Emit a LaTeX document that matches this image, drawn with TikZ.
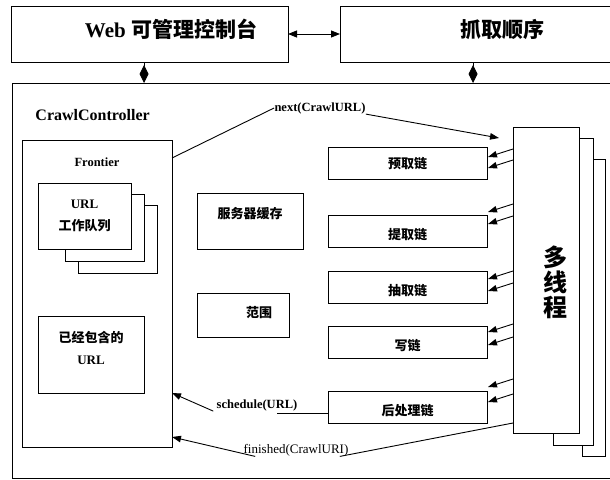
\documentclass[tikz,border=0pt]{standalone}
\usepackage{fontspec}
\setmainfont{Liberation Serif}
\newfontfamily\cjk{Noto Sans CJK SC}
\usetikzlibrary{arrows.meta, positioning, calc}

\begin{document}
\begin{tikzpicture}[
      x=1pt, y=-1pt,
      every node/.style={font=\bfseries},
      box/.style={draw, rectangle, fill=white, inner sep=0pt, outer sep=0pt},
      chain/.style={box, minimum width=159pt, minimum height=32pt, text height=18pt, text depth=1.5pt,
                    font=\cjk\bfseries\fontsize{13}{15}\selectfont},
      txt/.style={inner sep=0pt, font=\bfseries\fontsize{12.5}{14}\selectfont},
      tip/.style={-{Triangle[length=9pt,width=6.5pt]}},
      has/.style={-{Diamond[length=18pt,width=9pt]}},
      line width=0.9pt
    ]
    \useasboundingbox (0,0) rectangle (610,479);
    \clip (0,0) rectangle (610,479);

    % Nodes
    \node[box, minimum width=277pt, minimum height=56pt] (web) at (149.5,34) {};
    \node[txt, font=\bfseries\fontsize{21}{24}\selectfont] (webtxt) at (171,29) {Web {\cjk 可管理控制台}};
    \node[box, minimum width=280pt, minimum height=56pt] (order) at (480,34) {};
    \node[txt, font=\cjk\bfseries\fontsize{21}{24}\selectfont] (ordertxt) at (502,29) {抓取顺序};
    \node[box, minimum width=608pt, minimum height=395pt] (ctrl) at (316,280.5) {};
    \node[txt, font=\bfseries\fontsize{16}{18}\selectfont, anchor=west] (ctrltxt) at (35,115) {CrawlController};

    % Frontier
    \node[box, minimum width=150pt, minimum height=307pt] (frontier) at (97,293.5) {};
    \node[txt, below=17pt of frontier.north] (frontiertxt) {Frontier};
    \node[box, minimum width=79pt, minimum height=68pt] (queue3) at (117.5,239) {};
    \node[box, minimum width=79pt, minimum height=67pt] (queue2) at (104.5,227.5) {};
    \node[box, minimum width=93pt, minimum height=66pt, align=center,
          font=\bfseries\fontsize{13}{22}\selectfont] (queue) at (84.5,216) {URL\\{\cjk 工作队列}};
    \node[box, minimum width=106pt, minimum height=77pt] (seen) at (91,354.5) {};
    \node[txt, align=center, font=\bfseries\fontsize{13}{22}\selectfont] (seentxt)
      at ([yshift=6.5pt]seen.center) {{\cjk 已经包含的}\\URL};

    \node[box, minimum width=106pt, minimum height=56pt] (cache) at (250,221) {};
    \node[txt, font=\cjk\bfseries\fontsize{13}{15}\selectfont, below=13.5pt of cache.north] (cachetxt) {服务器缓存};
    \node[box, minimum width=92pt, minimum height=44pt] (scope) at (243,315) {};
    \node[txt, font=\cjk\bfseries\fontsize{13}{15}\selectfont] (scopetxt)
      at ([xshift=16pt,yshift=2pt]scope.center) {范围};

    % Chains
    \node[chain, text height=11.5pt] (pre) at (407.5,163) {预取链};
    \node[chain, below=36pt of pre] (fetch) {提取链};
    \node[chain, below=24pt of fetch] (extract) {抽取链};
    \node[chain, below=23pt of extract] (write) {写链};
    \node[chain, below=33pt of write] (post) {后处理链};

    % Threads
    \node[box, minimum width=23pt, minimum height=297pt] (multi3) at (593.5,307.5) {};
    \node[box, minimum width=40pt, minimum height=307pt] (multi2) at (573,291.5) {};
    \node[box, minimum width=66pt, minimum height=306pt] (multi) at (546,280) {};
    \node[txt, align=center, font=\cjk\bfseries\fontsize{24}{25}\selectfont] (multitxt) at (555,282) {多\\线\\程};

    % Labels
    \node[txt] (next) at (320,108) {next(CrawlURL)};
    \node[txt] (sched) at (257,405) {schedule(URL)};
    \node[txt, font=\fontsize{13}{15}\selectfont] (fin) at (296,450) {finished(CrawlURI)};

    % Arrows
    \draw[{Triangle[length=9pt,width=7pt]}-{Triangle[length=9pt,width=7pt]}] (web) -- (order);
    \draw[has] ([xshift=-5.5pt]web.south) -- ([xshift=-5.5pt]web.south |- ctrl.north);
    \draw[has] ([xshift=-7pt]order.south) -- ([xshift=-7pt]order.south |- ctrl.north);

    \draw ([yshift=-18pt]frontier.north east) -- (next.west);
    \draw[tip] (next.south east) -- ([xshift=-14pt,yshift=-11pt]multi.north west);

    \foreach \c/\ta/\tb in {pre/-6/5, fetch/-19/-7, extract/-8/4, write/-10/3, post/-20/-5} {
      \coordinate (t1) at ($(\c.east)+(1,\ta)$);
      \coordinate (t2) at ($(\c.east)+(1,\tb)$);
      \coordinate (s1) at ($(\c.east)+(1,\ta-8)$);
      \coordinate (s2) at ($(\c.east)+(1,\tb-8)$);
      \draw[tip] (multi.west |- s1) -- (t1);
      \draw[tip] (multi.west |- s2) -- (t2);
    }

    \draw ([yshift=-6pt]post.west) -- ++(-51,0);
    \draw[tip] ([xshift=-3pt]sched.south west) -- ([yshift=54pt]frontier.south east);
    \draw ([yshift=10pt]multi.south west) -- ([xshift=-9pt]fin.south east);
    \draw[tip] ([xshift=12pt]fin.south west) -- ([yshift=10pt]frontier.south east);
\end{tikzpicture}
\end{document}
